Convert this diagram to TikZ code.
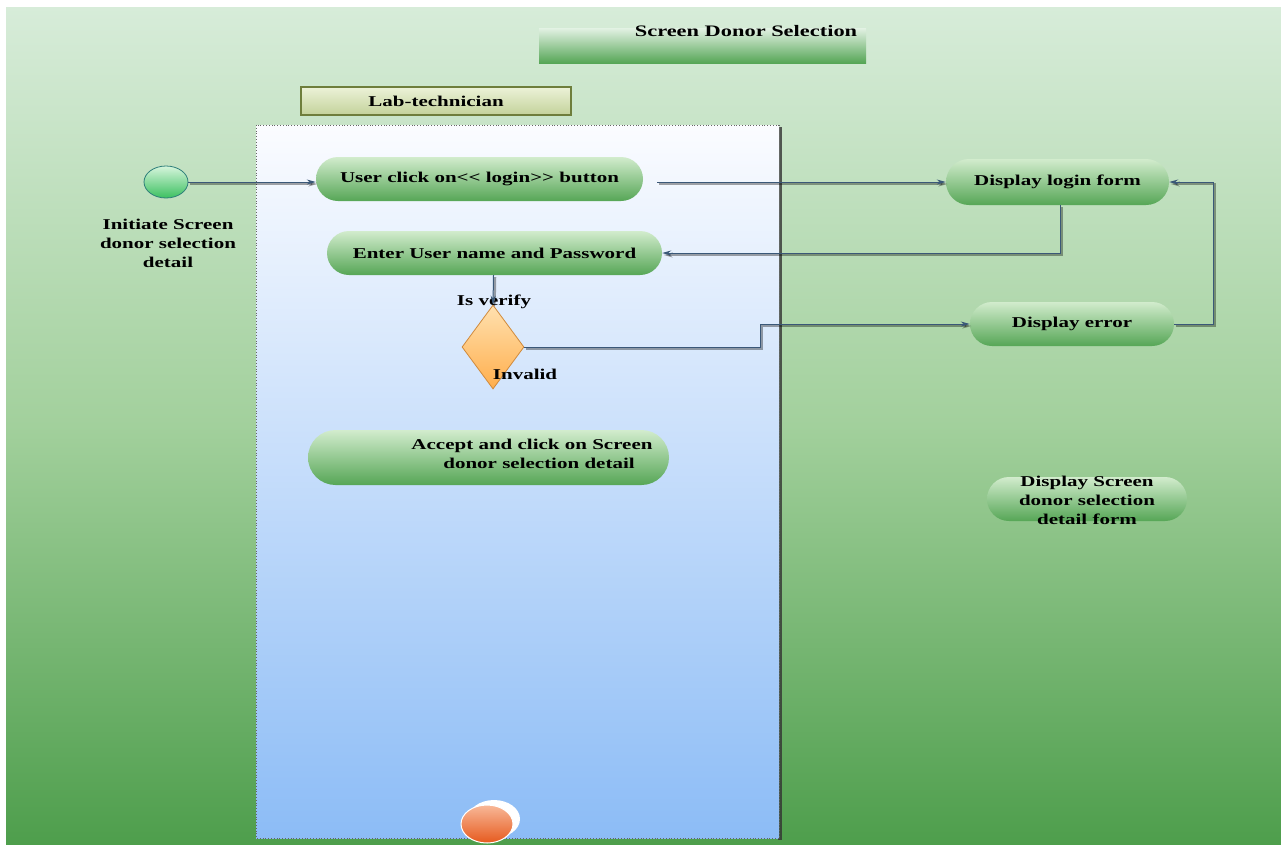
\documentclass[tikz,border=0pt]{standalone}
\usepackage{fontspec}
\setmainfont[FakeStretch=1.4]{Liberation Serif}
\usetikzlibrary{shapes.misc,shapes.geometric,arrows.meta}
\definecolor{bgtop}{HTML}{D7ECD9}
\definecolor{bgmid}{HTML}{A2D09C}
\definecolor{bgbot}{HTML}{4E9E4C}
\definecolor{lanetop}{HTML}{FBFCFF}
\definecolor{lanebot}{HTML}{8CBCF6}
\definecolor{pilltop}{HTML}{D2ECCD}
\definecolor{pillbot}{HTML}{56A656}
\definecolor{conn}{HTML}{3A5878}
\definecolor{labtop}{HTML}{ECF2D8}
\definecolor{labbot}{HTML}{C3D29A}
\definecolor{labedge}{HTML}{6E7E3C}
\definecolor{dectop}{HTML}{FFE1B0}
\definecolor{decbot}{HTML}{FFAE4C}
\definecolor{decedge}{HTML}{D08A3C}
\definecolor{fintop}{HTML}{F8B898}
\definecolor{finbot}{HTML}{E65A1E}
\definecolor{inittop}{HTML}{D6F5DC}
\definecolor{initbot}{HTML}{3CC060}
\definecolor{initedge}{HTML}{2E7F7A}
\tikzset{
  txt/.style={font=\fontsize{15}{19}\selectfont\bfseries, align=center},
  pill/.style={rounded rectangle, top color=pilltop, bottom color=pillbot, draw=none, inner sep=0pt, txt},
  conline/.style={draw=conn, line width=1pt,
     preaction={draw=black, opacity=0.35, line width=2.5pt, transform canvas={shift={(1.5pt,-2pt)}}}},
  arr/.style={-{Stealth[length=9pt,width=5pt]}},
}
\begin{document}
\begin{tikzpicture}[x=1pt,y=-1pt]
\useasboundingbox (0,0) rectangle (1281,844);
\fill[white] (0,0) rectangle (1281,844);
% background
\shade[top color=bgtop, bottom color=bgbot, middle color=bgmid] (6,7) rectangle (1281,844);
% title
\shade[top color=bgtop!70!white, bottom color=pillbot] (539,28) rectangle (866,63);
\node[txt, inner sep=0pt] (title) at (746,31) {\fontsize{16}{19}\selectfont Screen Donor Selection};
% lane header
\node[top color=labtop, bottom color=labbot, draw=labedge, line width=1.2pt, minimum width=270pt, minimum height=28pt, inner sep=0pt, txt] (lab) at (436,101) {Lab-technician};
% lane
\fill[black!80, opacity=0.8] (778,127) rectangle (782,840);
\shade[top color=lanetop, bottom color=lanebot] (256,125) rectangle (779,838);
\draw[black!60, dotted, line width=0.8pt] (256,125) rectangle (779,838);
% initial
\node[ellipse, minimum width=44pt, minimum height=32pt, inner sep=0pt, top color=inittop, bottom color=initbot, draw=initedge, line width=0.8pt] (init) at (166,182) {};
\node[txt, anchor=north] (initlbl) at (168,216) {Initiate Screen\\donor selection\\detail};
% actions
\node[pill, minimum width=327pt, minimum height=44pt] (login) at (479.5,179) {User click on<\kern0pt< login>\kern0pt> button};
\node[pill, minimum width=335pt, minimum height=44pt] (enter) at (494.5,253) {Enter User name and Password};
\node[pill, minimum width=361pt, minimum height=55pt] (accept) at (488.5,457.5) {};
\node[txt, inner sep=0pt] (accepttxt) at (532,454) {Accept and click on Screen\\\hspace*{14pt}donor selection detail};
\node[pill, minimum width=223pt, minimum height=46pt] (dlogin) at (1057.5,182) {Display login form};
\node[pill, minimum width=204pt, minimum height=44pt] (derr) at (1072,324) {Display error};
\node[pill, minimum width=200pt, minimum height=44pt] (dscreen) at (1087,499) {};
\node[txt, inner sep=0pt] (dscreentxt) at (1087,500) {Display Screen\\donor selection\\detail form};
% decision
\node[diamond, minimum width=62pt, minimum height=84pt, inner sep=0pt, top color=dectop, bottom color=decbot, draw=decedge, line width=0.8pt] (dec) at (493,347) {};
\node[txt, inner sep=0pt] (isv) at (494,302) {Is verify};
\node[txt, inner sep=0pt] (inv) at (525,374) {Invalid};
% final
\node[ellipse, minimum width=52pt, minimum height=38pt, fill=white, inner sep=0pt] (finw) at (494,819) {};
\node[ellipse, minimum width=52pt, minimum height=38pt, inner sep=0pt, top color=fintop, bottom color=finbot, draw=white, line width=1pt] (fin) at (487,824) {};
% connectors
\draw[conline, arr] (init.east) -- (login.west |- init.east);
\draw[conline, arr, shorten <=14pt] (login.east |- dlogin.west) -- (dlogin.west);
\draw[conline, arr] ([xshift=3pt]dlogin.south) |- (enter.east);
\draw[conline, arr] ([xshift=-1pt]enter.south) -- (dec.north);
\draw[conline, arr] (dec.east) -- ++(236,0) |- (derr.west);
\draw[conline, arr] (derr.east) -- ++(39,0) |- (dlogin.east);
\end{tikzpicture}
\end{document}
